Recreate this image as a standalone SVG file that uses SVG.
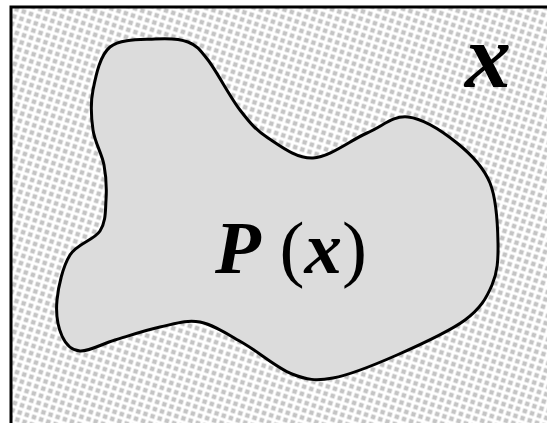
<svg xmlns="http://www.w3.org/2000/svg" width="547" height="423" viewBox="0 0 547 423">
<defs>
<pattern id="stip" width="7.5" height="7.5" patternUnits="userSpaceOnUse" patternTransform="rotate(18)">
<rect width="7.5" height="7.5" fill="#ffffff"/>
<rect x="1.5" y="1.5" width="4.5" height="4.5" fill="#c4c4c4"/>
</pattern>
</defs>
<rect width="547" height="423" fill="#ffffff"/>
<g id="frame">
<rect x="11" y="7" width="545" height="425" fill="url(#stip)" stroke="#000" stroke-width="3"/>
</g>
<g id="region">
<path d="M110,47 C120.3,38.5 142,39.8 155,39 C168,38.2 179.2,38.5 188,42 C196.8,45.5 199.3,48.7 208,60 C216.7,71.3 230,97 240,110 C250,123 255.8,130 268,138 C280.2,146 296.5,158.8 313,158 C329.5,157.2 351.2,139.8 367,133 C382.8,126.2 393,115.3 408,117 C423,118.7 443.3,132 457,143 C470.7,154 483.2,166.3 490,183 C496.8,199.7 497.7,226 498,243 C498.3,260 497.5,272.2 492,285 C486.5,297.8 480.8,308.3 465,320 C449.2,331.7 419,345.3 397,355 C375,364.7 350.5,374.8 333,378 C315.5,381.2 307,379.8 292,374 C277,368.2 258.3,351.7 243,343 C227.7,334.3 213.8,324.7 200,322 C186.2,319.3 174.2,324 160,327 C145.8,330 128.3,336 115,340 C101.7,344 88.8,351.7 80,351 C71.2,350.3 65.8,344.5 62,336 C58.2,327.5 55.7,313.5 57,300 C58.3,286.5 62.8,266.5 70,255 C77.2,243.5 94,240.2 100,231 C106,221.8 105.3,211 106,200 C106.7,189 106.2,176.7 104,165 C101.8,153.3 94.8,142.5 93,130 C91.2,117.5 90.2,103.8 93,90 C95.8,76.2 99.7,55.5 110,47 Z" fill="#dcdcdc" stroke="#000" stroke-width="3"/>
<text x="215" y="273" font-family="'Liberation Serif', serif" font-size="75" fill="#000"><tspan font-weight="700" font-style="italic">P</tspan> (<tspan font-weight="700" font-style="italic">x</tspan>)</text>
</g>
<g id="space">
<text x="465" y="87" font-family="'Liberation Serif', serif" font-weight="700" font-style="italic" font-size="92" fill="#000">x</text>
</g>
</svg>
